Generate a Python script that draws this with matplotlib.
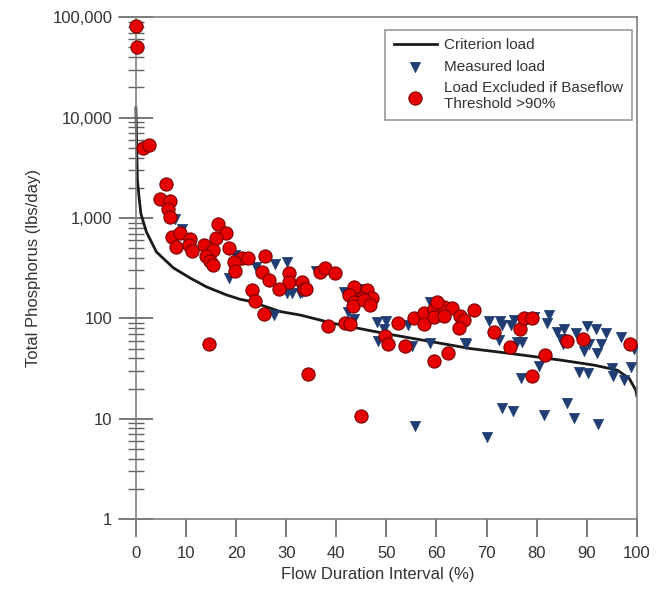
import numpy as np
import matplotlib
matplotlib.use("Agg")
import matplotlib.pyplot as plt
from matplotlib.ticker import FixedLocator, LogLocator, NullFormatter

plt.rcParams['font.family'] = ['Liberation Sans', 'DejaVu Sans']

# criterion load curve (flow duration interval %, lbs/day)
criterion_x = [0, 0.3, 0.7, 1.0, 2.1, 4.1, 7.5, 10.8, 14.1, 18.0, 20.8, 22.8, 28.8,
               32.8, 39.5, 49.5, 59.5, 66.8, 74.8, 84.8, 91.5, 96.1, 98.5, 99.8, 100]
criterion_y = [12500, 2400, 1500, 1100, 727, 459, 318, 253, 206, 172, 155, 148, 117,
               108, 89, 71, 58, 50, 44.7, 38.4, 34.2, 30.5, 25.2, 19.3, 17]

# measured load samples
measured_x = [7.8, 9.3, 19.8, 18.5, 24.0, 27.8, 30.1, 30.1, 31.1, 33.1, 27.5,
              36.0, 32.8, 41.5, 44.5, 42.3, 43.5, 48.1, 50.0, 49.5, 48.3, 54.3,
              55.1, 58.7, 66.0, 55.7, 58.8, 70.5, 72.7, 73.1, 75.5, 74.8, 77.8,
              79.5, 72.5, 76.1, 77.1, 65.8, 82.5, 82.0, 80.5, 76.9, 84.1, 85.5,
              84.8, 85.3, 87.8, 90.1, 91.8, 90.5, 89.5, 93.8, 92.8, 92.1, 96.8,
              99.5, 88.5, 90.3, 95.1, 95.3, 97.5, 98.9, 73.1, 75.3, 81.5, 86.1,
              87.5, 92.3, 70.1]
measured_y = [972, 785, 432, 253, 326, 352, 366, 177, 177, 184, 108,
              296, 177, 184, 198, 116, 97.5, 92, 94, 79, 59.7, 85.5,
              52.8, 57, 56, 8.4, 146, 94, 94, 86, 96, 86, 96,
              103, 61.6, 58.3, 58.3, 57, 108, 90, 33.4, 25.2, 73.4, 77.6,
              63, 56, 70.8, 83.7, 79, 56, 47.4, 71.6, 56, 44.7, 65.5,
              49, 29.3, 28.3, 32, 26.5, 24.2, 33, 12.7, 12, 10.9, 14.2,
              10.1, 8.8, 6.6]

# loads excluded if baseflow threshold > 90%
excluded_x = [0, 0.3, 1.5, 2.7, 6.1, 4.9, 6.8, 6.5, 6.8, 7.3, 8.9, 8.1, 10.9,
              10.7, 11.3, 16.3, 17.9, 16.0, 13.5, 15.3, 14.0, 14.7, 15.3, 18.5,
              21.1, 22.3, 19.5, 19.7, 25.8, 25.1, 30.5, 26.5, 30.5, 28.5, 33.1,
              23.1, 23.8, 33.5, 25.6, 14.6, 34.3, 36.8, 37.8, 39.8, 34.0, 43.5,
              42.5, 46.1, 47.1, 45.1, 43.5, 38.3, 41.8, 42.7, 43.3, 45.5, 46.8,
              49.8, 50.3, 52.3, 53.8, 55.5, 57.5, 57.5, 59.6, 62.3, 59.5, 61.5,
              63.1, 59.5, 61.5, 64.7, 65.5, 64.5, 60.1, 45.0, 67.6, 71.5, 76.7,
              77.5, 79.1, 74.7, 81.6, 79.0, 86.1, 89.3, 98.6]
excluded_y = [81800, 50600, 4950, 5350, 2170, 1540, 1480, 1220, 1026, 649, 717, 516, 615,
              536, 467, 881, 701, 625, 536, 478, 420, 371, 344, 505,
              401, 395, 366, 295, 420, 290, 280, 240, 228, 198, 231,
              191, 150, 198, 110, 55, 27.8, 290, 314, 286, 198, 206,
              170, 191, 158, 158, 146, 83.6, 90, 87, 132, 152, 135,
              66.5, 55, 89, 52.8, 102, 112, 87.5, 37.8, 44.7, 123, 128.5,
              126, 103.5, 105, 105, 96, 81, 146, 10.6, 121, 73, 79,
              100, 100, 52, 43, 26.5, 59.7, 63, 55]

y_ticks = [1, 10, 100, 1000, 10000, 100000]
y_labels = ["1", "10", "100", "1,000", "10,000", "100,000"]
x_ticks = list(range(0, 101, 10))

fig = plt.figure(figsize=(6.64, 5.94), dpi=100)
ax = fig.add_axes([0.179, 0.126, 0.78, 0.845])

ax.plot(criterion_x, criterion_y, color="#1a1a1a", lw=2, label="Criterion load", zorder=2)
ax.scatter(measured_x, measured_y, marker="v", s=55, color="#1f3d73",
           edgecolors="#1f3d73", linewidths=0.5, label="Measured load", zorder=3)
ax.scatter(excluded_x, excluded_y, marker="o", s=90, color="#e60000",
           edgecolors="#7a0000", linewidths=0.8,
           label="Load Excluded if Baseflow\nThreshold >90%", zorder=4)

ax.set_yscale("log")
ax.set_ylim(1, 100000)
ax.set_xlim(-3.4, 100)

# y axis sits at x = 0 with ticks crossing it
spine_col = "#808080"
ax.spines['left'].set_position(('data', 0))
for s in ['left', 'right', 'top', 'bottom']:
    ax.spines[s].set_color(spine_col)
    ax.spines[s].set_linewidth(1.2)

ax.yaxis.set_major_locator(FixedLocator(y_ticks))
ax.set_yticklabels(y_labels)
ax.yaxis.set_minor_locator(LogLocator(base=10, subs=np.arange(2, 10)))
ax.yaxis.set_minor_formatter(NullFormatter())
ax.tick_params(axis='y', which='major', direction='inout', length=24, width=1.2,
               color="#606060", labelsize=12, labelcolor="#333333", pad=5)
ax.tick_params(axis='y', which='minor', direction='inout', length=11, width=1.0,
               color="#606060")

ax.set_xticks(x_ticks)
ax.tick_params(axis='x', which='major', direction='out', length=13, width=1.2,
               color="#606060", labelsize=12, labelcolor="#333333", pad=6)

ax.set_xlabel("Flow Duration Interval (%)", fontsize=12, color="#333333", labelpad=5)
ax.set_ylabel("Total Phosphorus (lbs/day)", fontsize=12, color="#333333", labelpad=8)

leg = ax.legend(loc="upper right", bbox_to_anchor=(0.99, 0.975), borderaxespad=0,
                fontsize=11, frameon=True, fancybox=False, handlelength=2.8,
                labelspacing=0.5, handletextpad=0.5, borderpad=0.55)
leg.get_frame().set_edgecolor("#808080")
leg.get_frame().set_linewidth(1.2)
for t in leg.get_texts():
    t.set_color("#333333")
    t.set_linespacing(1.15)

fig.savefig("out.png", dpi=100)
